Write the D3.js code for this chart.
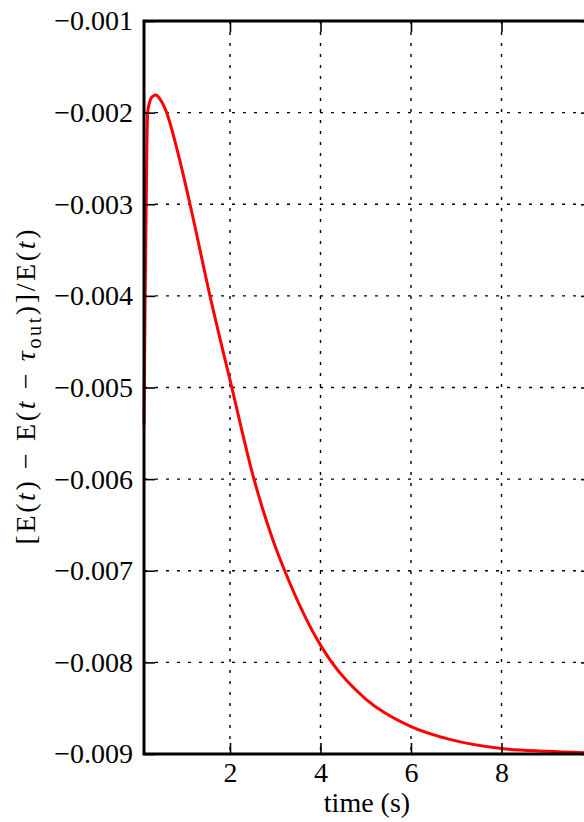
<!DOCTYPE html>
<html>
<head>
<meta charset="utf-8">
<script src="https://cdn.jsdelivr.net/npm/d3@7"></script>
<style>
  html, body { margin: 0; padding: 0; background: #fff; }
  svg { display: block; }
  text { font-family: 'Liberation Serif', 'DejaVu Serif', serif; fill: #000; }
</style>
</head>
<body>
<svg id="chart" width="584" height="822"></svg>
<script>
// curve: time (s) and relative energy difference
const times = [0.1, 0.124, 0.146, 0.18, 0.25, 0.3, 0.366, 0.45, 0.6, 0.85, 1.117, 1.558, 2.04, 2.53, 2.95, 3.21, 4.0, 4.25, 5.0, 6.0, 6.86, 8.0, 9.0, 10.0]
const values = [-0.00541, -0.00405, -0.0031, -0.002, -0.00185, -0.00182, -0.001808, -0.00185, -0.002, -0.00244, -0.003, -0.004, -0.005, -0.006, -0.006666, -0.007, -0.007812, -0.008, -0.0084, -0.0087, -0.00884, -0.00894, -0.00897, -0.00899]
const xTicks = [2, 4, 6, 8]
const yTicks = [-0.001, -0.002, -0.003, -0.004, -0.005, -0.006, -0.007, -0.008, -0.009]

const svg = d3.select('#chart')
const m = { left: 144, top: 21, bottom: 754, right: 592 }
const fontSize = 28

const x = d3.scaleLinear().domain([0.1, 10]).range([m.left, m.right])
const y = d3.scaleLinear().domain([-0.009, -0.001]).range([m.bottom, m.top])

const fmtY = d => '\u2212' + Math.abs(d).toFixed(3)

// grid
const grid = svg.append('g')
grid.selectAll('line.v')
  .data(xTicks)
  .enter().append('line')
  .attr('x1', d => x(d)).attr('x2', d => x(d))
  .attr('y1', m.top).attr('y2', m.bottom)
  .attr('stroke', '#000').attr('stroke-width', 1.4)
  .attr('stroke-dasharray', '3,8')
grid.selectAll('line.h')
  .data(yTicks.slice(1, -1))
  .enter().append('line')
  .attr('y1', d => y(d)).attr('y2', d => y(d))
  .attr('x1', m.left).attr('x2', m.right)
  .attr('stroke', '#000').attr('stroke-width', 1.4)
  .attr('stroke-dasharray', '3,8')

// curve
const line = d3.line()
  .x((d, i) => x(times[i]))
  .y(d => y(d))
  .curve(d3.curveMonotoneX)
svg.append('path')
  .datum(values)
  .attr('d', line)
  .attr('fill', 'none')
  .attr('stroke', '#ff0000')
  .attr('stroke-width', 3)
  .attr('stroke-linejoin', 'round')

// axes, ticks pointing inward on all four sides
const yAxis = d3.axisLeft(y).tickValues(yTicks).tickFormat(fmtY).tickSizeInner(-11).tickSizeOuter(0).tickPadding(11)
const gy = svg.append('g').attr('transform', `translate(${m.left},0)`).call(yAxis)
const xAxis = d3.axisBottom(x).tickValues(xTicks).tickSizeInner(-11).tickSizeOuter(0).tickPadding(8)
const gx = svg.append('g').attr('transform', `translate(0,${m.bottom})`).call(xAxis)
const gt = svg.append('g').attr('transform', `translate(0,${m.top})`)
  .call(d3.axisTop(x).tickValues(xTicks).tickFormat('').tickSizeInner(-11).tickSizeOuter(0))
const gr = svg.append('g').attr('transform', `translate(${m.right},0)`)
  .call(d3.axisRight(y).tickValues(yTicks).tickFormat('').tickSizeInner(-11).tickSizeOuter(0))

for (const g of [gx, gy, gt, gr]) {
  g.select('.domain').remove()
  g.selectAll('.tick line').attr('stroke', '#000').attr('stroke-width', 1.6)
  g.selectAll('.tick text').attr('font-size', fontSize).attr('font-family', "'Liberation Serif', serif")
}

// frame
svg.append('rect')
  .attr('x', m.left).attr('y', m.top)
  .attr('width', m.right - m.left).attr('height', m.bottom - m.top)
  .attr('fill', 'none').attr('stroke', '#000').attr('stroke-width', 3)

// labels
svg.append('text')
  .attr('x', 367).attr('y', 812)
  .attr('text-anchor', 'middle')
  .attr('font-size', fontSize)
  .text('time (s)')

const yl = svg.append('text')
  .attr('transform', 'translate(35,387) rotate(-90)')
  .attr('text-anchor', 'middle')
  .attr('font-size', fontSize)
  .attr('textLength', 315)
  .attr('lengthAdjust', 'spacing')
yl.append('tspan').text('[E(')
yl.append('tspan').attr('font-style', 'italic').text('t')
yl.append('tspan').text(') \u2212 E(')
yl.append('tspan').attr('font-style', 'italic').text('t')
yl.append('tspan').text(' \u2212 ')
yl.append('tspan').attr('font-style', 'italic').text('\u03c4')
yl.append('tspan').attr('font-size', 20).attr('dy', 6).text('out')
yl.append('tspan').attr('dy', -6).text(')]/E(')
yl.append('tspan').attr('font-style', 'italic').text('t')
yl.append('tspan').text(')')
</script>
</body>
</html>
